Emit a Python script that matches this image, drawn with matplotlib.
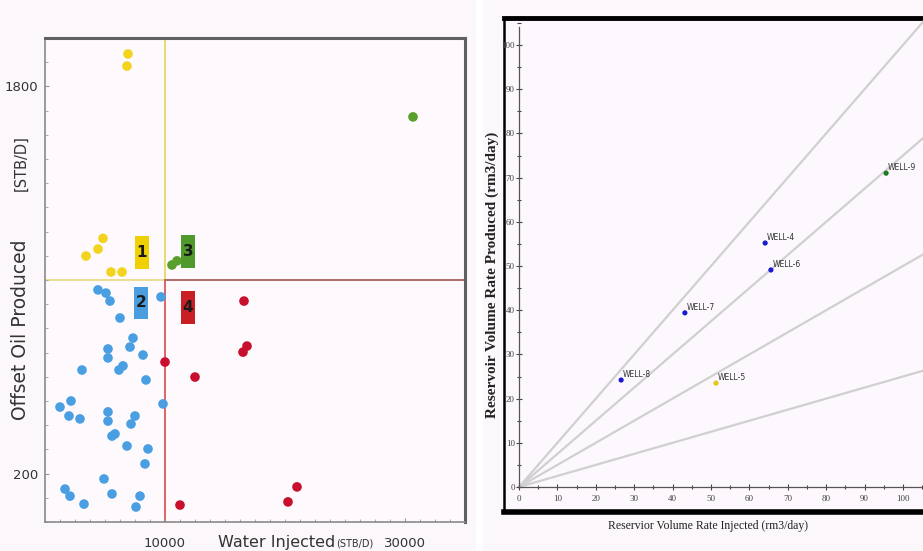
import matplotlib
matplotlib.use("Agg")
import matplotlib.pyplot as plt
from matplotlib.ticker import MultipleLocator, FixedLocator
from matplotlib.patches import Rectangle

# ---------------- Left panel data (Water Injected vs Offset Oil Produced) ----------------
yellow_x = [6917, 6833, 4833, 4417, 3417, 5500, 6417]
yellow_y = [1934, 1884, 1172, 1128, 1099, 1033, 1033]

green_x = [30667, 10583, 11000]
green_y = [1674, 1062, 1079]

blue_x = [4417, 5083, 5417, 9667, 6250, 7333, 7083, 5250, 5250, 8167, 6500, 6167,
          3083, 8417, 1250, 2167, 2000, 2917, 5250, 5250, 7500, 7167, 9833, 5583,
          5833, 6833, 8583, 8333, 4917, 1667, 2083, 3250, 5583, 7917, 7583]
blue_y = [959, 946, 913, 930, 843, 760, 723, 715, 678, 690, 645, 628,
          628, 587, 475, 500, 438, 426, 455, 417, 438, 405, 488, 355,
          364, 314, 302, 240, 178, 136, 107, 74, 116, 107, 62]

red_x = [16583, 16500, 16833, 10000, 12500, 11250, 20250, 21000]
red_y = [913, 702, 727, 661, 599, 70, 83, 145]

x_threshold = 10000
y_threshold = 1000
left_xticks = [10000, 30000]
left_yticks = [200, 1800]

quad_labels = ["1", "2", "3", "4"]
quad_x = [8083, 8000, 11917, 11917]
quad_y = [1112, 905, 1116, 888]
quad_colors = ["#f0d000", "#4a9ee0", "#4f9a2a", "#c81e24"]

# ---------------- Right panel data (reservoir volume rates) ----------------
well_names = ["WELL-8", "WELL-7", "WELL-4", "WELL-6", "WELL-5", "WELL-9"]
injected = [26.6, 43.2, 64.1, 65.6, 51.3, 95.6]
produced = [24.2, 39.4, 55.2, 49.1, 23.5, 71.0]
well_colors = ["#1a1ad0", "#1a1ad0", "#1a1ad0", "#1a1ad0", "#e6c619", "#1f7a1f"]
ratio_slopes = [1.0, 0.75, 0.5, 0.25]

W, H = 923, 551
fig = plt.figure(figsize=(W / 100, H / 100), dpi=100)
fig.patch.set_facecolor("#fbf7fa")


def frac(l, t, r, b):
    return [l / W, 1 - b / H, (r - l) / W, (b - t) / H]


# white gap between panels
fig.add_artist(Rectangle((476 / W, 0), 7 / W, 1, transform=fig.transFigure,
                         facecolor="white", edgecolor="none", zorder=0))

# ================= LEFT PANEL =================
ax = fig.add_axes(frac(45, 38, 465, 522))
ax.set_facecolor("#fdf9fc")
ax.set_xlim(0, 35000)
ax.set_ylim(0, 2000)

for side in ["top", "right"]:
    ax.spines[side].set_color("#606060")
    ax.spines[side].set_linewidth(2.2)
for side in ["left", "bottom"]:
    ax.spines[side].set_color("#8a8a8a")
    ax.spines[side].set_linewidth(1.2)

# quadrant lines
ax.plot([x_threshold, x_threshold], [y_threshold, 2000], color="#e8d650", lw=1.2, zorder=1)
ax.plot([x_threshold, x_threshold], [0, y_threshold], color="#d84a4a", lw=1.2, zorder=1)
ax.plot([0, x_threshold], [y_threshold, y_threshold], color="#e6da80", lw=1.2, zorder=1)
ax.plot([x_threshold, 35000], [y_threshold, y_threshold], color="#b06a6a", lw=1.4, zorder=1)

ms = 48
ax.scatter(blue_x, blue_y, s=ms, color="#4a9fe3", edgecolors="none", zorder=3)
ax.scatter(yellow_x, yellow_y, s=ms, color="#f2d41e", edgecolors="none", zorder=3)
ax.scatter(green_x, green_y, s=ms, color="#5a9e2c", edgecolors="none", zorder=3)
ax.scatter(red_x, red_y, s=ms, color="#c8102e", edgecolors="none", zorder=3)

box_w, box_h = 1100, 136
for lab, qx, qy, qc in zip(quad_labels, quad_x, quad_y, quad_colors):
    ax.add_patch(Rectangle((qx - box_w / 2, qy - box_h / 2), box_w, box_h,
                           facecolor=qc, edgecolor="none", zorder=4))
    ax.text(qx, qy, lab, ha="center", va="center", fontsize=11, color="#1a1a1a",
            fontweight="bold", zorder=5)

ax.xaxis.set_major_locator(FixedLocator(left_xticks))
ax.yaxis.set_major_locator(FixedLocator(left_yticks))
ax.xaxis.set_minor_locator(MultipleLocator(1250))
ax.yaxis.set_minor_locator(MultipleLocator(100))
ax.tick_params(axis="both", which="both", direction="in", color="#9a9a9a")
ax.tick_params(axis="both", which="major", length=3, labelsize=9.5, labelcolor="#333333")
ax.tick_params(axis="both", which="minor", length=2.5)
ax.tick_params(axis="x", pad=11)
ax.tick_params(axis="y", pad=5)

# axis labels
fig.text(218 / W, 1 - 543 / H, "Water Injected", ha="left", va="center",
         fontsize=11.5, color="#333333")
fig.text(336 / W, 1 - 544 / H, "(STB/D)", ha="left", va="center",
         fontsize=7, color="#333333")
fig.text(21 / W, 1 - 330 / H, "Offset Oil Produced", ha="center", va="center",
         rotation=90, fontsize=13.5, color="#333333")
fig.text(21 / W, 1 - 163 / H, "[STB/D]", ha="center", va="center",
         rotation=90, fontsize=10.5, color="#333333")

# ================= RIGHT PANEL =================
fl, ft, fr, fb = 504, 18, 965, 512
x0px, y0px = 519, 487
xs, ys = 3.84, 4.42
xlim = ((fl - x0px) / xs, (fr - x0px) / xs)
ylim = ((y0px - fb) / ys, (y0px - ft) / ys)

axf = fig.add_axes(frac(fl, ft, fr, fb))
axf.set_facecolor("#fdf8fd")
axf.set_xticks([])
axf.set_yticks([])
axf.spines["top"].set_linewidth(3.5)
axf.spines["bottom"].set_linewidth(4)
axf.spines["left"].set_linewidth(1.8)
axf.spines["right"].set_visible(False)
for s in axf.spines.values():
    s.set_color("black")

axr = fig.add_axes(frac(fl, ft, fr, fb))
axr.patch.set_alpha(0)
axr.set_xlim(*xlim)
axr.set_ylim(*ylim)
axr.spines["top"].set_visible(False)
axr.spines["right"].set_visible(False)
axr.spines["left"].set_position(("data", 0))
axr.spines["bottom"].set_position(("data", 0))
axr.spines["left"].set_bounds(0, 104)
axr.spines["bottom"].set_bounds(0, xlim[1])
for s in ["left", "bottom"]:
    axr.spines[s].set_color("#555555")
    axr.spines[s].set_linewidth(0.9)

x_end = xlim[1]
for sl in ratio_slopes:
    axr.plot([0, x_end], [0, sl * x_end], color="#d0d0d0", lw=1.6, zorder=1)

axr.scatter(injected, produced, s=14, c=well_colors, edgecolors="none", zorder=3)
for nm, xi, yi in zip(well_names, injected, produced):
    axr.annotate(nm, (xi, yi), xytext=(1, 2), textcoords="offset points",
                 fontsize=5.5, color="#333333", zorder=4)

axr.set_xticks(list(range(0, 101, 10)))
axr.set_yticks(list(range(0, 101, 10)))
axr.xaxis.set_minor_locator(MultipleLocator(5))
axr.yaxis.set_minor_locator(MultipleLocator(5))
axr.tick_params(axis="both", which="both", direction="inout", color="#444444", width=0.8)
axr.tick_params(axis="both", which="major", length=4, labelsize=6.5, labelcolor="#444444")
axr.tick_params(axis="both", which="minor", length=3)
axr.tick_params(axis="x", pad=4)
axr.tick_params(axis="y", pad=1)
for lbl in axr.get_xticklabels() + axr.get_yticklabels():
    lbl.set_family("Liberation Serif")

fig.text(708 / W, 1 - 526 / H, "Reservior Volume Rate Injected (rm3/day)",
         ha="center", va="center", fontsize=8.5, family="Liberation Serif", color="#222222")
fig.text(492 / W, 1 - 275 / H, "Reservoir Volume Rate Produced (rm3/day)",
         ha="center", va="center", rotation=90, fontsize=11, fontweight="bold",
         family="Liberation Serif", color="#222222")

fig.savefig("out.png", dpi=100, facecolor=fig.get_facecolor())
